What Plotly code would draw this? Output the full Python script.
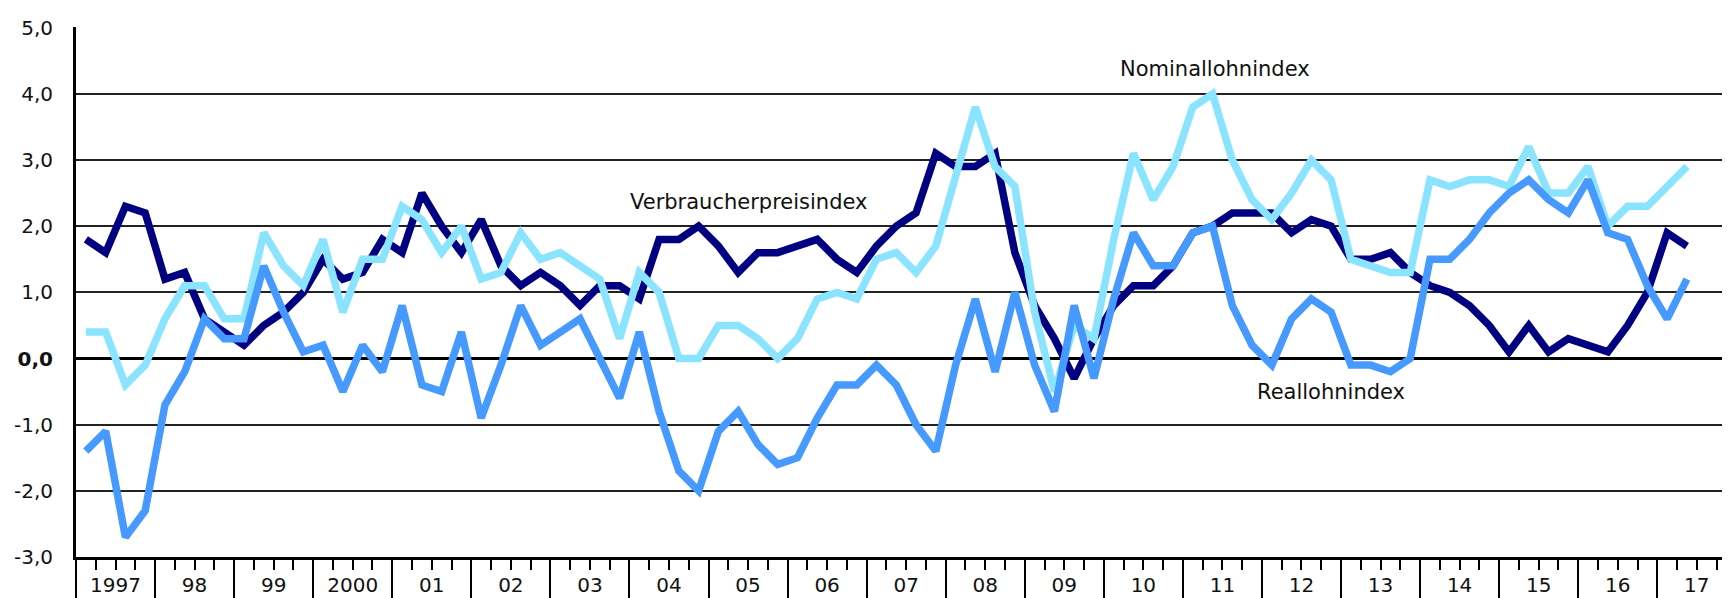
import plotly.graph_objects as go

# Quarterly data, 1997Q1 .. 2017Q2 (change vs. previous year, %)
verbraucherpreisindex = [
    1.8, 1.6, 2.3, 2.2,   # 1997
    1.2, 1.3, 0.6, 0.4,   # 1998
    0.2, 0.5, 0.7, 1.0,   # 1999
    1.5, 1.2, 1.3, 1.8,   # 2000
    1.6, 2.5, 2.0, 1.6,   # 2001
    2.1, 1.4, 1.1, 1.3,   # 2002
    1.1, 0.8, 1.1, 1.1,   # 2003
    0.9, 1.8, 1.8, 2.0,   # 2004
    1.7, 1.3, 1.6, 1.6,   # 2005
    1.7, 1.8, 1.5, 1.3,   # 2006
    1.7, 2.0, 2.2, 3.1,   # 2007
    2.9, 2.9, 3.1, 1.6,   # 2008
    0.8, 0.3, -0.3, 0.3,  # 2009
    0.8, 1.1, 1.1, 1.4,   # 2010
    1.9, 2.0, 2.2, 2.2,   # 2011
    2.2, 1.9, 2.1, 2.0,   # 2012
    1.5, 1.5, 1.6, 1.3,   # 2013
    1.1, 1.0, 0.8, 0.5,   # 2014
    0.1, 0.5, 0.1, 0.3,   # 2015
    0.2, 0.1, 0.5, 1.0,   # 2016
    1.9, 1.7,             # 2017
]
nominallohnindex = [
    0.4, 0.4, -0.4, -0.1,
    0.6, 1.1, 1.1, 0.6,
    0.6, 1.9, 1.4, 1.1,
    1.8, 0.7, 1.5, 1.5,
    2.3, 2.1, 1.6, 2.0,
    1.2, 1.3, 1.9, 1.5,
    1.6, 1.4, 1.2, 0.3,
    1.3, 1.0, 0.0, 0.0,
    0.5, 0.5, 0.3, 0.0,
    0.3, 0.9, 1.0, 0.9,
    1.5, 1.6, 1.3, 1.7,
    2.8, 3.8, 2.9, 2.6,
    0.7, -0.5, 0.5, 0.3,
    1.8, 3.1, 2.4, 2.9,
    3.8, 4.0, 3.0, 2.4,
    2.1, 2.5, 3.0, 2.7,
    1.5, 1.4, 1.3, 1.3,
    2.7, 2.6, 2.7, 2.7,
    2.6, 3.2, 2.5, 2.5,
    2.9, 2.0, 2.3, 2.3,
    2.6, 2.9,
]
reallohnindex = [
    -1.4, -1.1, -2.7, -2.3,
    -0.7, -0.2, 0.6, 0.3,
    0.3, 1.4, 0.7, 0.1,
    0.2, -0.5, 0.2, -0.2,
    0.8, -0.4, -0.5, 0.4,
    -0.9, -0.1, 0.8, 0.2,
    0.4, 0.6, 0.0, -0.6,
    0.4, -0.8, -1.7, -2.0,
    -1.1, -0.8, -1.3, -1.6,
    -1.5, -0.9, -0.4, -0.4,
    -0.1, -0.4, -1.0, -1.4,
    -0.1, 0.9, -0.2, 1.0,
    -0.1, -0.8, 0.8, -0.3,
    0.9, 1.9, 1.4, 1.4,
    1.9, 2.0, 0.8, 0.2,
    -0.1, 0.6, 0.9, 0.7,
    -0.1, -0.1, -0.2, 0.0,
    1.5, 1.5, 1.8, 2.2,
    2.5, 2.7, 2.4, 2.2,
    2.7, 1.9, 1.8, 1.1,
    0.6, 1.2,
]
year_labels = ["1997", "98", "99", "2000", "01", "02", "03", "04", "05", "06",
               "07", "08", "09", "10", "11", "12", "13", "14", "15", "16", "17"]
y_ticks = [5, 4, 3, 2, 1, 0, -1, -2, -3]
y_labels = ["5,0", "4,0", "3,0", "2,0", "1,0", "<b>0,0</b>", "-1,0", "-2,0", "-3,0"]

# x in years since start of 1997; each quarter centred in its slot
n = len(verbraucherpreisindex)
xq = [i * 0.25 + 0.125 for i in range(n)]

FONT = "DejaVu Sans"
TXT = "#111111"
C_CPI = "#000080"
C_NOM = "#8AE4FF"
C_REAL = "#4599FF"
LW = 7.5

fig = go.Figure()
fig.add_trace(go.Scatter(x=xq, y=verbraucherpreisindex, mode="lines",
                         line=dict(color=C_CPI, width=LW), name="Verbraucherpreisindex"))
fig.add_trace(go.Scatter(x=xq, y=nominallohnindex, mode="lines",
                         line=dict(color=C_NOM, width=LW), name="Nominallohnindex"))
fig.add_trace(go.Scatter(x=xq, y=reallohnindex, mode="lines",
                         line=dict(color=C_REAL, width=LW), name="Reallohnindex"))
# helper trace so the label axis is drawn
fig.add_trace(go.Scatter(x=[0, 1], y=[None, None], xaxis="x2", mode="lines",
                         showlegend=False, hoverinfo="skip"))

# page body has an 8px margin, so the figure is sized to fit the window
XR = [0, 20.92]
fig.update_layout(
    width=1722, height=590,
    margin=dict(l=68, r=0, t=19, b=41.4, autoexpand=False),
    paper_bgcolor="white", plot_bgcolor="white",
    showlegend=False,
    font=dict(family=FONT, size=20, color=TXT),
    xaxis=dict(
        range=XR, showgrid=False, zeroline=False, automargin=False,
        showline=True, linecolor="black", linewidth=3,
        tickmode="array", tickvals=list(range(len(year_labels))),
        ticks="outside", ticklen=40, tickwidth=2, tickcolor="black",
        showticklabels=False,
        minor=dict(tickmode="linear", tick0=0, dtick=0.25, ticks="outside",
                   ticklen=10, tickwidth=2, tickcolor="black"),
    ),
    xaxis2=dict(
        range=XR, overlaying="x", side="bottom", anchor="y", automargin=False,
        showgrid=False, zeroline=False, showline=False,
        tickmode="array", tickvals=[i + 0.5 for i in range(len(year_labels))],
        ticktext=year_labels, ticks="", ticklabelstandoff=14,
        tickfont=dict(family=FONT, size=20, color=TXT),
    ),
    yaxis=dict(
        range=[-3, 5.01], automargin=False,
        showgrid=True, gridcolor="#222222", gridwidth=1.6,
        zeroline=True, zerolinecolor="black", zerolinewidth=2.8,
        showline=True, linecolor="black", linewidth=3,
        tickmode="array", tickvals=y_ticks, ticktext=y_labels,
        ticks="", ticklabelstandoff=16,
        tickfont=dict(family=FONT, size=20, color=TXT),
    ),
)

annotations = [
    ("Verbraucherpreisindex", 8.51, 2.36),
    ("Nominallohnindex", 14.40, 4.38),
    ("Reallohnindex", 15.87, -0.51),
]
for text, ax, ay in annotations:
    fig.add_annotation(x=ax, y=ay, xref="x", yref="y", text=text, showarrow=False,
                       font=dict(family=FONT, size=21, color=TXT),
                       xanchor="center", yanchor="middle")

fig.write_html("out.html")
